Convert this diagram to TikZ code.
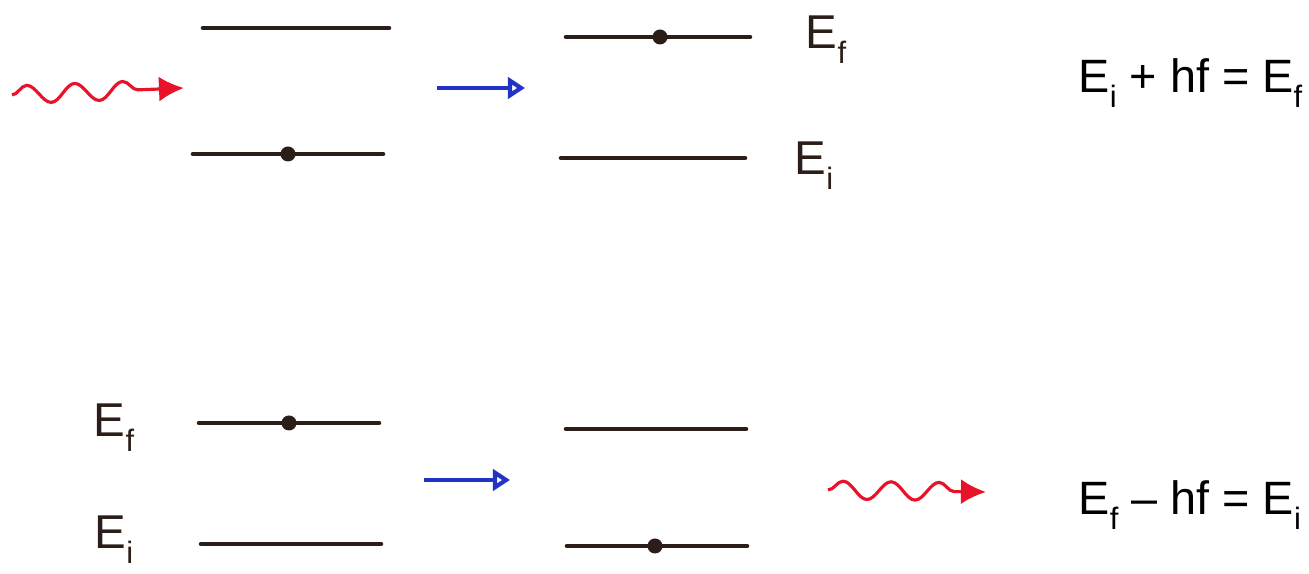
\documentclass[tikz,border=0pt]{standalone}
\usepackage{fontspec}
\setmainfont{Liberation Sans}
\usetikzlibrary{arrows.meta,decorations.pathmorphing}
\definecolor{photonred}{HTML}{E8132B}
\definecolor{shiftblue}{HTML}{2233C8}
\definecolor{levelink}{HTML}{2B1D18}
\newcommand\lowidx[1]{\raisebox{-0.32em}{\fontsize{8.8}{8.8}\selectfont #1}}

\tikzset{
  lvl/.style={line width=1.3pt,levelink,line cap=round},
  electron/.style={circle,fill=levelink,inner sep=0pt,minimum size=0.15cm},
  photon/.style={photonred,line width=0.9pt,decorate,
    decoration={snake,amplitude=0.09cm,segment length=0.48cm,post length=0.24cm},
    -{Latex[length=0.25cm,width=0.25cm]}},
  shiftarrow/.style={shiftblue,line width=1.2pt,-{Triangle[open,length=0.17cm,width=0.21cm]}},
  hand/.style={levelink,font=\fontsize{13.5}{13.5}\selectfont},
  balance/.style={anchor=base west,inner sep=0pt,font=\fontsize{13.3}{13.3}\selectfont}
}

\begin{document}
\begin{tikzpicture}[x=0.01cm,y=-0.01cm]
  \useasboundingbox (0,0) rectangle (1309,574);

  % absorption
  \draw[lvl] (203,28) -- (389,28);
  \draw[lvl] (193,154) -- (383,154);
  \node[electron] (eAbsBefore) at (288,154) {};
  \draw[lvl] (566,37) -- (750,37);
  \draw[lvl] (561,158) -- (745,158);
  \node[electron] (eAbsAfter) at (660,37) {};
  \node[hand] (absEf) at (826,40) {E\lowidx{f}};
  \node[hand] (absEi) at (814,166) {E\lowidx{i}};
  \coordinate (inStart) at (12,95);
  \coordinate (inEnd) at (184,88);
  \draw[photon] (inStart) -- (inEnd);
  \coordinate (absFrom) at (437,88);
  \coordinate (absTo) at (525,88);
  \draw[shiftarrow] (absFrom) -- (absTo);
  \node[balance] (absEq) at (1078,93) {E\lowidx{i} + hf = E\lowidx{f}};

  % emission
  \draw[lvl] (199,423) -- (379,423);
  \draw[lvl] (201,544) -- (381,544);
  \node[electron] (eEmBefore) at (289,423) {};
  \draw[lvl] (566,429) -- (746,429);
  \draw[lvl] (567,546) -- (747,546);
  \node[electron] (eEmAfter) at (655,546) {};
  \node[hand] (emEf) at (114,428) {E\lowidx{f}};
  \node[hand] (emEi) at (114,540) {E\lowidx{i}};
  \coordinate (emFrom) at (424,480);
  \coordinate (emTo) at (510,480);
  \draw[shiftarrow] (emFrom) -- (emTo);
  \coordinate (outStart) at (828,490);
  \coordinate (outEnd) at (986,492);
  \draw[photon] (outStart) -- (outEnd);
  \node[balance] (emEq) at (1078,515) {E\lowidx{f} -- hf = E\lowidx{i}};
\end{tikzpicture}
\end{document}
